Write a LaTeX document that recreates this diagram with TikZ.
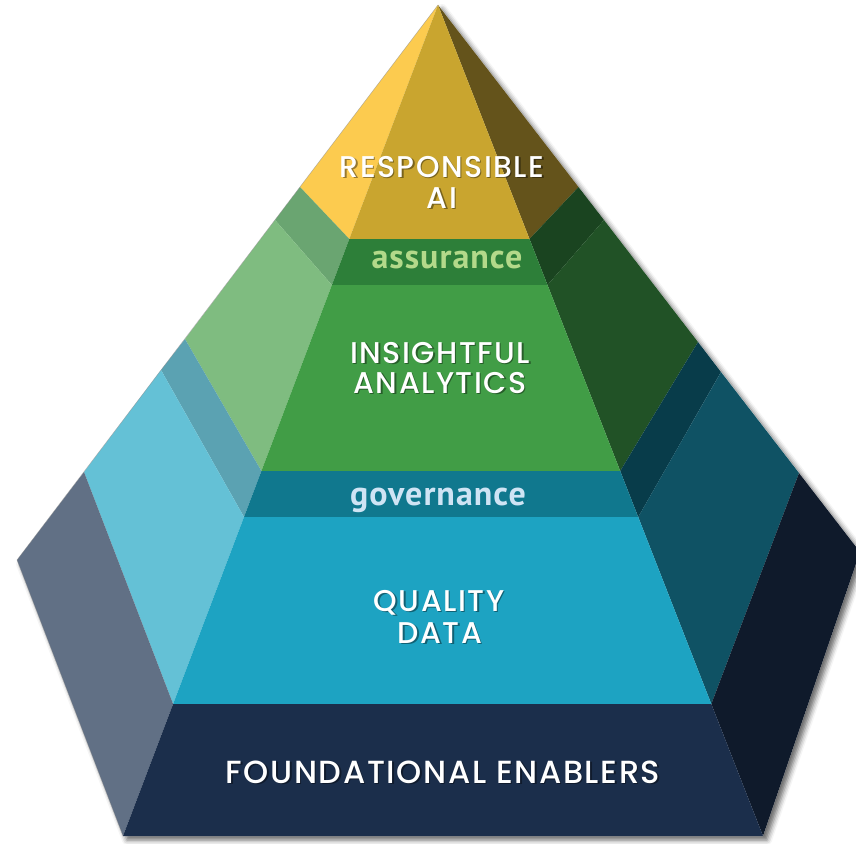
\documentclass[tikz,border=0pt]{standalone}
\usepackage{fontspec}
\usetikzlibrary{shadows.blur}
\newfontfamily\capfont{Poppins Medium}[LetterSpace=5]
\newfontfamily\lowfont{PT Sans Bold}[LetterSpace=3]
\definecolor{yelC}{HTML}{C9A52F}\definecolor{yelL}{HTML}{FCCB4F}\definecolor{yelR}{HTML}{64531B}
\definecolor{assC}{HTML}{2D7F39}\definecolor{assL}{HTML}{6AA571}\definecolor{assR}{HTML}{1A4420}
\definecolor{insC}{HTML}{419D46}\definecolor{insL}{HTML}{7FBC80}\definecolor{insR}{HTML}{215226}
\definecolor{govC}{HTML}{10788E}\definecolor{govL}{HTML}{5BA2B2}\definecolor{govR}{HTML}{083C4A}
\definecolor{qdC}{HTML}{1DA3C2}\definecolor{qdL}{HTML}{64C1D6}\definecolor{qdR}{HTML}{0F5264}
\definecolor{fnC}{HTML}{1B2E4B}\definecolor{fnL}{HTML}{617085}\definecolor{fnR}{HTML}{0F1A2B}
\definecolor{assText}{HTML}{B3D98A}\definecolor{govText}{HTML}{CFE4F4}
\newcommand\glowlabel[4]{%
  \node[#3,anchor=base,text=black,text opacity=0.4] at ([shift={(1.5,1.5)}]#2) {#4};
  \node[#3,anchor=base] (#1) at (#2) {#4};}
\begin{document}
\begin{tikzpicture}[x=1pt,y=-1pt,
  capstyle/.style={font=\capfont\fontsize{30}{32}\selectfont,text=white,inner sep=0pt},
  bigcap/.style={font=\capfont\fontsize{32}{34}\selectfont,text=white,inner sep=0pt},
  lowstyle/.style={font=\lowfont\fontsize{34}{36}\selectfont,inner sep=0pt}]
\useasboundingbox (0,0) rectangle (856,843);
\clip (0,0) rectangle (856,843);
\coordinate (A) at (438,5);
\coordinate (FL1) at (349.3,239); \coordinate (FR1) at (529.5,239);
\coordinate (FL2) at (331.9,285); \coordinate (FR2) at (547.5,285);
\coordinate (FL3) at (261.4,471); \coordinate (FR3) at (620.2,471);
\coordinate (FL4) at (244,517);   \coordinate (FR4) at (638.2,517);
\coordinate (FL5) at (173.1,704); \coordinate (FR5) at (711.3,704);
\coordinate (BL) at (123,836);    \coordinate (BR) at (763,836);
\coordinate (OL1) at (300,187); \coordinate (OL2) at (275,220);
\coordinate (OL3) at (185,339); \coordinate (OL4) at (161,370);
\coordinate (OL5) at (84,472);  \coordinate (LV) at (17,560);
\coordinate (OR1) at (578.5,187); \coordinate (OR2) at (604,220);
\coordinate (OR3) at (698,342);   \coordinate (OR4) at (721,372);
\coordinate (OR5) at (799,473);   \coordinate (RV) at (860,552);
% silhouette with shadow
\fill[white,blur shadow={shadow xshift=4pt,shadow yshift=-4pt,shadow blur radius=5pt,shadow opacity=60}]
  (A) -- (RV) -- (BR) -- (BL) -- (LV) -- cycle;
% left side faces
\fill[yelL] (A) -- (OL1) -- (FL1) -- cycle;
\fill[assL] (OL1) -- (OL2) -- (FL2) -- (FL1) -- cycle;
\fill[insL] (OL2) -- (OL3) -- (FL3) -- (FL2) -- cycle;
\fill[govL] (OL3) -- (OL4) -- (FL4) -- (FL3) -- cycle;
\fill[qdL]  (OL4) -- (OL5) -- (FL5) -- (FL4) -- cycle;
\fill[fnL]  (OL5) -- (LV) -- (BL) -- (FL5) -- cycle;
% right side faces
\fill[yelR] (A) -- (OR1) -- (FR1) -- cycle;
\fill[assR] (OR1) -- (OR2) -- (FR2) -- (FR1) -- cycle;
\fill[insR] (OR2) -- (OR3) -- (FR3) -- (FR2) -- cycle;
\fill[govR] (OR3) -- (OR4) -- (FR4) -- (FR3) -- cycle;
\fill[qdR]  (OR4) -- (OR5) -- (FR5) -- (FR4) -- cycle;
\fill[fnR]  (OR5) -- (RV) -- (BR) -- (FR5) -- cycle;
% front faces
\fill[yelC] (A) -- (FL1) -- (FR1) -- cycle;
\fill[assC] (FL1) -- (FR1) -- (FR2) -- (FL2) -- cycle;
\fill[insC] (FL2) -- (FR2) -- (FR3) -- (FL3) -- cycle;
\fill[govC] (FL3) -- (FR3) -- (FR4) -- (FL4) -- cycle;
\fill[qdC]  (FL4) -- (FR4) -- (FR5) -- (FL5) -- cycle;
\fill[fnC]  (FL5) -- (FR5) -- (BR) -- (BL) -- cycle;
% thin outline on the left
\draw[black!45,line width=0.5pt,opacity=0.6] (BL) -- (LV) -- (A);
% labels
\glowlabel{resp}{442,177}{capstyle}{RESPONSIBLE}
\glowlabel{ai}{442,208}{capstyle}{AI}
\node[lowstyle,anchor=base,text=assText] (assur) at (447,268) {assurance};
\glowlabel{insi}{440,363}{capstyle}{INSIGHTFUL}
\glowlabel{anal}{440,393}{capstyle}{ANALYTICS}
\node[lowstyle,anchor=base,text=govText] (gov) at (438,505) {governance};
\glowlabel{qual}{439,611}{capstyle}{QUALITY}
\glowlabel{data}{440,643}{capstyle}{DATA}
\glowlabel{found}{443,783}{bigcap}{FOUNDATIONAL ENABLERS}
\end{tikzpicture}
\end{document}
